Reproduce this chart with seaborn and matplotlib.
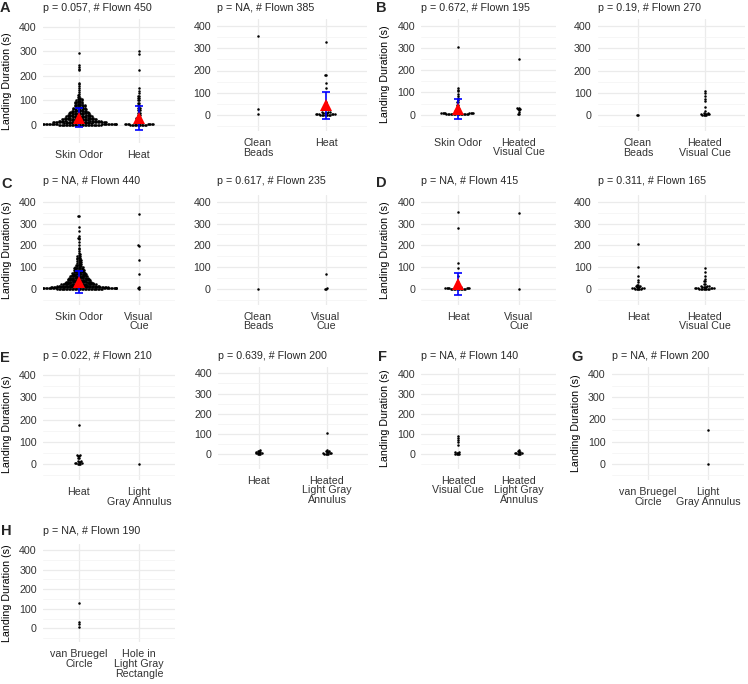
"""
Landing duration beeswarm panels (A-H)
"""
import warnings
import numpy as np
import pandas as pd
import matplotlib
matplotlib.use("Agg")
import matplotlib.pyplot as plt
import seaborn as sns

warnings.filterwarnings("ignore")

# landing durations (s), stored as value / count pairs
a1_skin_vals = [295, 245, 238, 228, 222, 172, 165, 158, 150, 143, 135, 128,
                122, 118, 114, 110, 107, 104, 101, 98, 95, 92, 89, 86, 83, 80,
                77, 74, 71, 68, 65, 62, 59, 56, 53, 50, 47, 44, 41, 38, 35, 32, 29, 26, 23, 20,
                17, 14, 11, 8, 5, 2]
a1_skin_n = [1, 1, 1, 1, 1, 1, 1, 1, 1, 1, 1, 1,
             1, 1, 1, 2, 2, 2, 2, 3, 3, 3, 3, 3, 4, 4,
             4, 4, 4, 5, 5, 5, 5, 6, 6, 7, 7, 8, 8, 9, 9, 10, 10, 11, 12, 13,
             14, 16, 18, 20, 24, 30]
a1_heat_vals = [300, 290, 225, 150, 140, 130, 120, 110, 100, 90, 80, 70, 60, 50, 40, 30, 20, 10, 5, 2]
a1_heat_n = [1, 1, 1, 1, 1, 1, 2, 2, 2, 2, 2, 3, 3, 3, 3, 4, 4, 6, 9, 12]

a2_beads_vals = [355, 28, 5]
a2_beads_n = [1, 1, 1]
a2_heat_vals = [330, 178, 145, 120, 60, 40, 25, 15, 10, 5, 2]
a2_heat_n = [1, 2, 1, 1, 1, 1, 2, 3, 4, 6, 8]

b1_skin_vals = [305, 120, 112, 105, 95, 85, 75, 65, 55, 45, 35, 25, 15, 8, 3]
b1_skin_n = [1, 1, 1, 1, 1, 1, 1, 1, 2, 2, 2, 3, 4, 8, 16]
b1_hvc_vals = [252, 30, 25, 20, 10, 3]
b1_hvc_n = [1, 2, 2, 1, 1, 2]

b2_beads_vals = [3, 1]
b2_beads_n = [1, 1]
b2_hvc_vals = [110, 100, 88, 75, 65, 35, 20, 12, 8, 4, 1]
b2_hvc_n = [1, 1, 1, 1, 1, 1, 1, 2, 2, 3, 4]

c1_skin_vals = [335, 285, 268, 245, 235, 228, 215, 200, 190, 182, 172, 165, 160, 156, 152,
                148, 144, 140, 136, 132, 128, 124, 120, 116, 112, 108, 104, 100, 97, 94,
                91, 88, 85, 82, 79, 76, 73, 70, 67, 64, 61, 58, 55, 52, 49, 46, 43, 40, 37, 34,
                31, 28, 25, 22, 19, 16, 13, 10, 7, 4, 1]
c1_skin_n = [2, 1, 1, 1, 2, 1, 1, 1, 1, 1, 1, 1, 1, 1, 2,
             1, 2, 1, 2, 2, 2, 2, 2, 2, 2, 2, 3, 3, 3, 3,
             3, 3, 3, 4, 4, 4, 5, 5, 5, 5, 6, 6, 6, 7, 7, 7, 8, 8, 9, 9,
             10, 10, 11, 12, 13, 14, 16, 18, 22, 26, 32]
c1_vis_vals = [345, 200, 196, 135, 70, 10, 4, 1]
c1_vis_n = [1, 1, 1, 1, 1, 1, 1, 1]

c2_beads_vals = [1]
c2_beads_n = [1]
c2_vis_vals = [70, 4, 1]
c2_vis_n = [1, 1, 2]

d1_heat_vals = [355, 278, 120, 95, 60, 30, 20, 10, 5, 2]
d1_heat_n = [1, 1, 1, 1, 1, 2, 3, 4, 7, 11]
d1_vis_vals = [350, 1]
d1_vis_n = [1, 1]

d2_heat_vals = [205, 100, 60, 40, 30, 20, 15, 10, 5, 2]
d2_heat_n = [1, 1, 1, 1, 1, 2, 2, 3, 4, 5]
d2_hvc_vals = [95, 80, 60, 45, 35, 25, 15, 10, 5, 2]
d2_hvc_n = [1, 1, 1, 1, 2, 2, 3, 4, 6, 8]

e1_heat_vals = [175, 40, 35, 25, 15, 10, 5, 2]
e1_heat_n = [1, 2, 2, 2, 2, 2, 3, 3]
e1_lga_vals = [1]
e1_lga_n = [1]

e2_heat_vals = [22, 18, 12, 8, 4, 1]
e2_heat_n = [1, 2, 2, 2, 2, 3]
e2_hlga_vals = [105, 20, 15, 10, 6, 2]
e2_hlga_n = [1, 1, 2, 2, 3, 4]

f_hvc_vals = [90, 80, 70, 60, 45, 12, 8, 4, 1]
f_hvc_n = [1, 1, 1, 1, 1, 2, 2, 2, 2]
f_hlga_vals = [22, 15, 10, 5, 2]
f_hlga_n = [1, 1, 2, 3, 3]

g_vbc_vals, g_vbc_n = [], []
g_lga_vals = [150, 1]
g_lga_n = [1, 1]

h_vbc_vals = [130, 30, 20, 5]
h_vbc_n = [1, 1, 1, 1]
h_hole_vals, h_hole_n = [], []

# mean +/- sd markers (None = not drawn)
a1_mean, a1_sd = [30, 30], [38, 49]
a2_mean, a2_sd = [None, 43], [None, 61]
b1_mean, b1_sd = [25, None], [46, None]
c1_mean, c1_sd = [32, None], [52, None]
d1_mean, d1_sd = [24, None], [51, None]
no_mean, no_sd = [None, None], [None, None]

W, H = 748, 684
YMIN, YMAX = -72, 432
STEP = 0.65   # category spacing in data units -> seaborn's 0.8 swarm width spans ~1.2 categories
FS = 7.7
SWARM = 1.0   # marker size used by seaborn to lay out the swarm
DOT = 1.8     # marker size actually drawn (dots overlap, like the original)

sns.set_theme(style="white")
plt.rcParams["font.family"] = ["Liberation Sans", "DejaVu Sans"]

# title, categories, groups, mean, sd, ylabel,
# layout in px: (x of cat 1, x of cat 2, y of 400, y of 0, title baseline)
panels = [
    ("p = 0.057, # Flown 450", ["Skin Odor", "Heat"],
     [(a1_skin_vals, a1_skin_n), (a1_heat_vals, a1_heat_n)], a1_mean, a1_sd, True,
     (79, 139, 26.7, 125.0, 10.7)),
    ("p = NA, # Flown 385", ["Clean\nBeads", "Heat"],
     [(a2_beads_vals, a2_beads_n), (a2_heat_vals, a2_heat_n)], a2_mean, a2_sd, False,
     (258, 326, 26.0, 115.0, 10.7)),
    ("p = 0.672, # Flown 195", ["Skin Odor", "Heated\nVisual Cue"],
     [(b1_skin_vals, b1_skin_n), (b1_hvc_vals, b1_hvc_n)], b1_mean, b1_sd, True,
     (458, 519, 25.7, 114.7, 10.7)),
    ("p = 0.19, # Flown 270", ["Clean\nBeads", "Heated\nVisual Cue"],
     [(b2_beads_vals, b2_beads_n), (b2_hvc_vals, b2_hvc_n)], no_mean, no_sd, False,
     (638, 705, 26.0, 115.3, 10.7)),
    ("p = NA, # Flown 440", ["Skin Odor", "Visual\nCue"],
     [(c1_skin_vals, c1_skin_n), (c1_vis_vals, c1_vis_n)], c1_mean, c1_sd, True,
     (79, 139, 201.7, 289.0, 184.3)),
    ("p = 0.617, # Flown 235", ["Clean\nBeads", "Visual\nCue"],
     [(c2_beads_vals, c2_beads_n), (c2_vis_vals, c2_vis_n)], no_mean, no_sd, False,
     (258, 326, 201.7, 289.0, 184.3)),
    ("p = NA, # Flown 415", ["Heat", "Visual\nCue"],
     [(d1_heat_vals, d1_heat_n), (d1_vis_vals, d1_vis_n)], d1_mean, d1_sd, True,
     (458, 519, 201.7, 289.0, 184.3)),
    ("p = 0.311, # Flown 165", ["Heat", "Heated\nVisual Cue"],
     [(d2_heat_vals, d2_heat_n), (d2_hvc_vals, d2_hvc_n)], no_mean, no_sd, False,
     (638, 705, 201.7, 289.0, 184.3)),
    ("p = 0.022, # Flown 210", ["Heat", "Light\nGray Annulus"],
     [(e1_heat_vals, e1_heat_n), (e1_lga_vals, e1_lga_n)], no_mean, no_sd, True,
     (79, 139, 375.0, 464.0, 359.3)),
    ("p = 0.639, # Flown 200", ["Heat", "Heated\nLight Gray\nAnnulus"],
     [(e2_heat_vals, e2_heat_n), (e2_hlga_vals, e2_hlga_n)], no_mean, no_sd, False,
     (259, 327, 373.3, 454.3, 359.3)),
    ("p = NA, # Flown 140", ["Heated\nVisual Cue", "Heated\nLight Gray\nAnnulus"],
     [(f_hvc_vals, f_hvc_n), (f_hlga_vals, f_hlga_n)], no_mean, no_sd, True,
     (458, 519, 374.3, 454.3, 359.3)),
    ("p = NA, # Flown 200", ["van Bruegel\nCircle", "Light\nGray Annulus"],
     [(g_vbc_vals, g_vbc_n), (g_lga_vals, g_lga_n)], no_mean, no_sd, True,
     (648, 708, 374.3, 464.0, 359.3)),
    ("p = NA, # Flown 190", ["van Bruegel\nCircle", "Hole in\nLight Gray\nRectangle"],
     [(h_vbc_vals, h_vbc_n), (h_hole_vals, h_hole_n)], no_mean, no_sd, True,
     (79, 139, 550.0, 628.3, 534.0)),
]

# panel letters: (x px, baseline px)
letters = {"A": (0, 11.7), "B": (376, 11.7), "C": (1, 188), "D": (376, 187),
           "E": (0, 362), "F": (378, 361), "G": (571, 361), "H": (1, 535)}

swarms = []


def draw_panel(fig, title, cats, groups, means, sds, ylab, geom):
    c1, c2, y400, y0, title_y = geom
    unit = c2 - c1
    ppu = (y0 - y400) / 400
    left, right = c1 - 0.6 * unit, c2 + 0.6 * unit
    top, bottom = y400 - (YMAX - 400) * ppu, y0 - YMIN * ppu
    ax = fig.add_axes([left / W, 1 - bottom / H, (right - left) / W, (bottom - top) / H])
    pos = [i * STEP for i in range(len(cats))]
    # final limits first, so seaborn lays the swarm out on the real scale
    ax.set_xlim(-0.6 * STEP, pos[-1] + 0.6 * STEP)
    ax.set_ylim(YMIN, YMAX)

    for p, (vals, n) in zip(pos, groups):
        if len(vals) == 0:
            continue
        d = pd.DataFrame({"x": p, "dur": np.repeat(vals, n)})
        sns.swarmplot(data=d, x="x", y="dur", native_scale=True, orient="x",
                      color="black", size=SWARM, linewidth=0, ax=ax, zorder=2)
        coll = ax.collections[-1]
        coll.set_linewidth(0)
        swarms.append(coll)

    for p, m, s in zip(pos, means, sds):
        if m is None:
            continue
        ax.errorbar(p, m, yerr=s, color="#0000FF", elinewidth=1.2, capsize=3,
                    capthick=1.2, fmt="none", zorder=4)
        ax.plot(p, m, marker="^", color="#FF0000", ms=8, mew=0, zorder=5)

    ax.set_xlim(-0.6 * STEP, pos[-1] + 0.6 * STEP)
    ax.set_ylim(YMIN, YMAX)
    ax.set_xticks(pos)
    ax.set_xticklabels(cats)
    for t in ax.get_xticklabels():
        t.set_linespacing(0.95)
    ax.set_yticks(range(0, 401, 100))
    ax.set_yticks(range(-50, 400, 100), minor=True)
    ax.grid(which="major", color="#EBEBEB", lw=0.9)
    ax.grid(which="minor", axis="y", color="#F3F3F3", lw=0.5)
    ax.set_axisbelow(True)
    for sp in ax.spines.values():
        sp.set_visible(False)
    ax.tick_params(axis="both", which="major", length=3, width=0.8, color="#333333",
                   labelsize=FS, labelcolor="#333333")
    ax.tick_params(axis="y", pad=1.5)
    ax.tick_params(axis="x", pad=2)
    ax.tick_params(which="minor", length=0)
    ax.set_xlabel("")
    if ylab:
        ax.set_ylabel("Landing Duration (s)", fontsize=FS, color="black")
        ax.yaxis.set_label_coords(-31 / (right - left), 0.5)
    else:
        ax.set_ylabel("")
    ax.set_title(title, loc="left", fontsize=FS, pad=(top - title_y) * 0.72)
    return ax


fig = plt.figure(figsize=(W / 100, H / 100), dpi=100)
for spec in panels:
    draw_panel(fig, *spec)

for lab, (x, y) in letters.items():
    fig.text(x / W, 1 - y / H, lab, ha="left", va="baseline", fontsize=10.5, fontweight="bold")

# let seaborn lay out the swarms with the final limits, then freeze them and enlarge the dots
fig.canvas.draw()
for coll in swarms:
    if "draw" in vars(coll):
        del coll.draw
    coll.set_sizes([DOT ** 2])

fig.savefig("out.png", dpi=100, facecolor="white")
